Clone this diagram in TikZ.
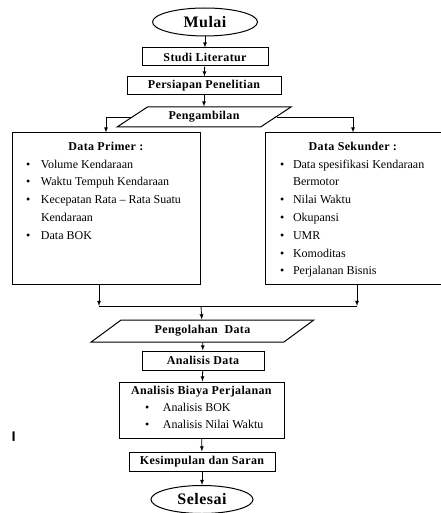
\documentclass[tikz,border=0pt]{standalone}
\usepackage{fontspec}
\setmainfont{Liberation Serif}[BoldFeatures={LetterSpace=3}]
\usepackage{tikz}
\usetikzlibrary{calc,shapes.geometric}
\tikzstyle{every picture}=[->,>=latex]
\tikzstyle{terminal}=[ellipse,draw,line width=1pt,inner sep=0pt,minimum width=105pt,minimum height=28pt,font=\fontsize{16}{18}\selectfont\bfseries]
\tikzstyle{proses}=[rectangle,draw,line width=1pt,inner sep=0pt,minimum height=18pt,font=\fontsize{12}{14}\selectfont\bfseries]
\tikzstyle{masukan}=[trapezium,trapezium stretches=true,draw,line width=1pt,inner sep=0pt,font=\fontsize{12}{14}\selectfont\bfseries]
\tikzstyle{kotak}=[rectangle,draw,line width=1pt,inner sep=0pt,font=\fontsize{12}{17.8}\selectfont]

\begin{document}
\begin{tikzpicture}[x=1pt,y=-1pt,line width=0.8pt]
    \useasboundingbox (0,0) rectangle (440,513);

    % Awal
    \node[terminal] (mulai) at (205,22) {Mulai};
    \node[proses,minimum width=126pt] (studi) at (205,57) {Studi Literatur};
    \node[proses,minimum width=154pt] (persiapan) at (204,86) {Persiapan Penelitian};
    \node[masukan,trapezium left angle=30,trapezium right angle=150,
        minimum width=174pt,minimum height=20pt] (ambil) at (204,117) {Pengambilan};
    \draw (mulai) -- (studi);
    \draw (studi) -- (persiapan);
    \draw (persiapan) -- (ambil);

    % Data primer
    \node[kotak] (primer) at (106,208.5) {\begin{minipage}[c][151pt][t]{188pt}
        \vspace{9pt}
        {\centering\textbf{Data Primer :}\par}
        \noindent\begin{tabular}[t]{@{\hspace{14pt}}c@{\hspace{10.8pt}}l}
        \textbullet & Volume Kendaraan\\
        \textbullet & Waktu Tempuh Kendaraan\\
        \textbullet & Kecepatan Rata – Rata Suatu\\
                    & Kendaraan\\
        \textbullet & Data BOK
        \end{tabular}
    \end{minipage}};

    % Data sekunder
    \node[kotak] (sekunder) at (353,208.5) {\begin{minipage}[c][151pt][t]{176pt}
        \vspace{9pt}
        {\centering\textbf{Data Sekunder :}\par}
        \noindent\begin{tabular}[t]{@{\hspace{15pt}}c@{\hspace{8.8pt}}l}
        \textbullet & Data spesifikasi Kendaraan\\
                    & Bermotor\\
        \textbullet & Nilai Waktu\\
        \textbullet & Okupansi\\
        \textbullet & UMR\\
        \textbullet & Komoditas\\
        \textbullet & Perjalanan Bisnis
        \end{tabular}
    \end{minipage}};

    \draw (ambil.west) -| (primer.north);
    \draw (ambil.east) -| (sekunder.north);

    % Gabung
    \coordinate (kiri) at (99,306);
    \coordinate (kanan) at (357,306);
    \coordinate (gabung) at (201,306);
    \draw ([xshift=-7pt]primer.south) -- (kiri);
    \draw ([xshift=4pt]sekunder.south) -- (kanan);
    \draw[-] (kiri) -- (kanan);

    % Pengolahan
    \node[masukan,trapezium left angle=32,trapezium right angle=148,
        minimum width=223pt,minimum height=22pt] (olah) at (202.5,331) {Pengolahan\ \ Data};
    \node[proses,minimum width=122pt,minimum height=19pt] (analisis) at (203,360.5) {Analisis Data};
    \node[kotak,font=\fontsize{12}{17}\selectfont] (biaya) at (201.5,410) {\begin{minipage}[c][56pt][t]{165pt}
        \vspace{4.5pt}
        {\centering\textbf{Analisis Biaya Perjalanan}\par}
        \noindent\begin{tabular}[t]{@{\hspace{26pt}}c@{\hspace{13.8pt}}l}
        \textbullet & Analisis BOK\\
        \textbullet & Analisis Nilai Waktu
        \end{tabular}
    \end{minipage}};
    \node[proses,minimum width=146pt,minimum height=19pt] (kesimpulan) at (202,461.5) {Kesimpulan dan Saran};
    \node[terminal,minimum width=102pt] (selesai) at (202,499.5) {Selesai};
    \node[font=\sffamily\bfseries\fontsize{14}{16}\selectfont,inner sep=0pt] (tanda) at (13.7,436.5) {I};

    \draw (gabung) -- (olah);
    \draw (olah) -- (analisis);
    \draw (analisis) -- (biaya);
    \draw (biaya) -- (kesimpulan);
    \draw (kesimpulan) -- (selesai);
\end{tikzpicture}
\end{document}
